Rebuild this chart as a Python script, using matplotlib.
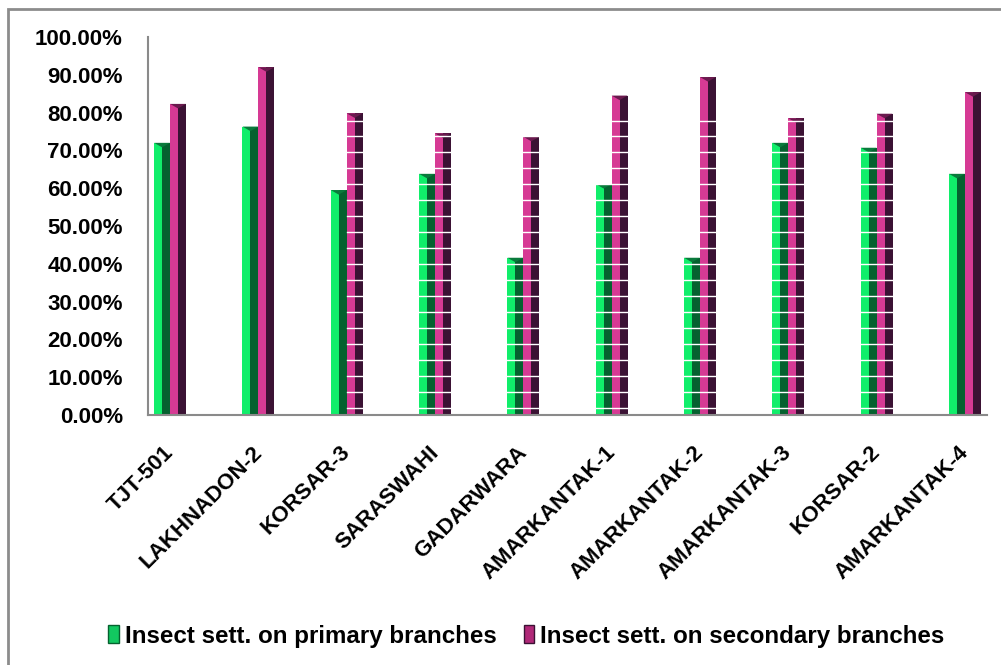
import matplotlib
matplotlib.use("Agg")
import matplotlib.pyplot as plt
import matplotlib.transforms as mtransforms
from matplotlib.patches import Rectangle
import numpy as np

varieties = ["TJT-501", "LAKHNADON-2", "KORSAR-3", "SARASWAHI", "GADARWARA",
             "AMARKANTAK-1", "AMARKANTAK-2", "AMARKANTAK-3", "KORSAR-2", "AMARKANTAK-4"]
primary = [0.72, 0.763, 0.595, 0.638, 0.416, 0.611, 0.416, 0.72, 0.707, 0.638]
secondary = [0.823, 0.92, 0.798, 0.745, 0.736, 0.845, 0.894, 0.785, 0.797, 0.854]
legend_labels = ["Insect sett. on primary branches", "Insect sett. on secondary branches"]

plt.rcParams['font.family'] = ['Liberation Sans', 'DejaVu Sans']

fig = plt.figure(figsize=(10.01, 6.65), dpi=100)
W, H = 1001.0, 665.0
# outer chart frame
fig.patches.append(Rectangle((8 / W, -0.1), 1.2, (665 - 9) / H + 0.1, transform=fig.transFigure,
                             fill=False, edgecolor="#8c8c8c", linewidth=2))

ax = fig.add_axes([148 / W, (665 - 415) / H, (987 - 148) / W, (415 - 37) / H])

x = np.arange(len(varieties))
bw = 0.18
half = bw / 2
# green bars: bright left half, dark right half
ax.bar(x - bw + half / 2, primary, width=half, color="#10ee6a", zorder=2)
ax.bar(x - half / 2, primary, width=half, color="#05612f", zorder=2)
# purple bars
ax.bar(x + half / 2, secondary, width=half, color="#d63a94", zorder=2)
ax.bar(x + bw - half / 2, secondary, width=half, color="#3b1234", zorder=2)

# bevelled caps
for xi, v in zip(x, primary):
    ax.fill([xi - bw, xi, xi - half], [v, v, v - 0.012], color="#0a7a3c", zorder=3, lw=0)
for xi, v in zip(x, secondary):
    ax.fill([xi, xi + bw, xi + half], [v, v, v - 0.012], color="#6a1a4e", zorder=3, lw=0)

# faint white grid artefacts seen over the middle bars
for k in range(19):
    yv = 0.0177 + k * 0.0423
    ax.plot([2.0, 8.18], [yv, yv], color="white", lw=1, zorder=4)

ax.set_xlim(-0.25, 9.25)
ax.set_ylim(0, 1.0)
ax.set_yticks(np.arange(0, 1.01, 0.1))
ax.set_yticklabels(["%.2f%%" % (v * 100) for v in np.arange(0, 1.01, 0.1)],
                   fontsize=16, fontweight="bold")
ax.tick_params(axis="y", length=0, pad=18)
ax.tick_params(axis="x", length=0)

ax.set_xticks(x)
ax.set_xticklabels(varieties, rotation=45, ha="right", va="top", rotation_mode="anchor",
                   fontsize=16, fontweight="bold")
offset = mtransforms.ScaledTranslation(-7 / 100, -22 / 100, fig.dpi_scale_trans)
for lbl in ax.get_xticklabels():
    lbl.set_transform(lbl.get_transform() + offset)

for s in ["top", "right"]:
    ax.spines[s].set_visible(False)
ax.spines["left"].set_color("#8a8a8a")
ax.spines["bottom"].set_color("#8a8a8a")
ax.spines["left"].set_linewidth(1.5)
ax.spines["bottom"].set_linewidth(1.5)

handles = [Rectangle((0, 0), 1, 1, facecolor="#12c860", edgecolor="#05612f"),
           Rectangle((0, 0), 1, 1, facecolor="#b02878", edgecolor="#3b1234")]
fig.legend(handles, legend_labels, loc="center", bbox_to_anchor=(0.526, (665 - 636) / H),
           ncol=2, frameon=False, handlelength=0.45, handleheight=0.75, handletextpad=0.25,
           columnspacing=1.1, prop={"weight": "bold", "size": 17.4})

fig.savefig("out.png", dpi=100)
